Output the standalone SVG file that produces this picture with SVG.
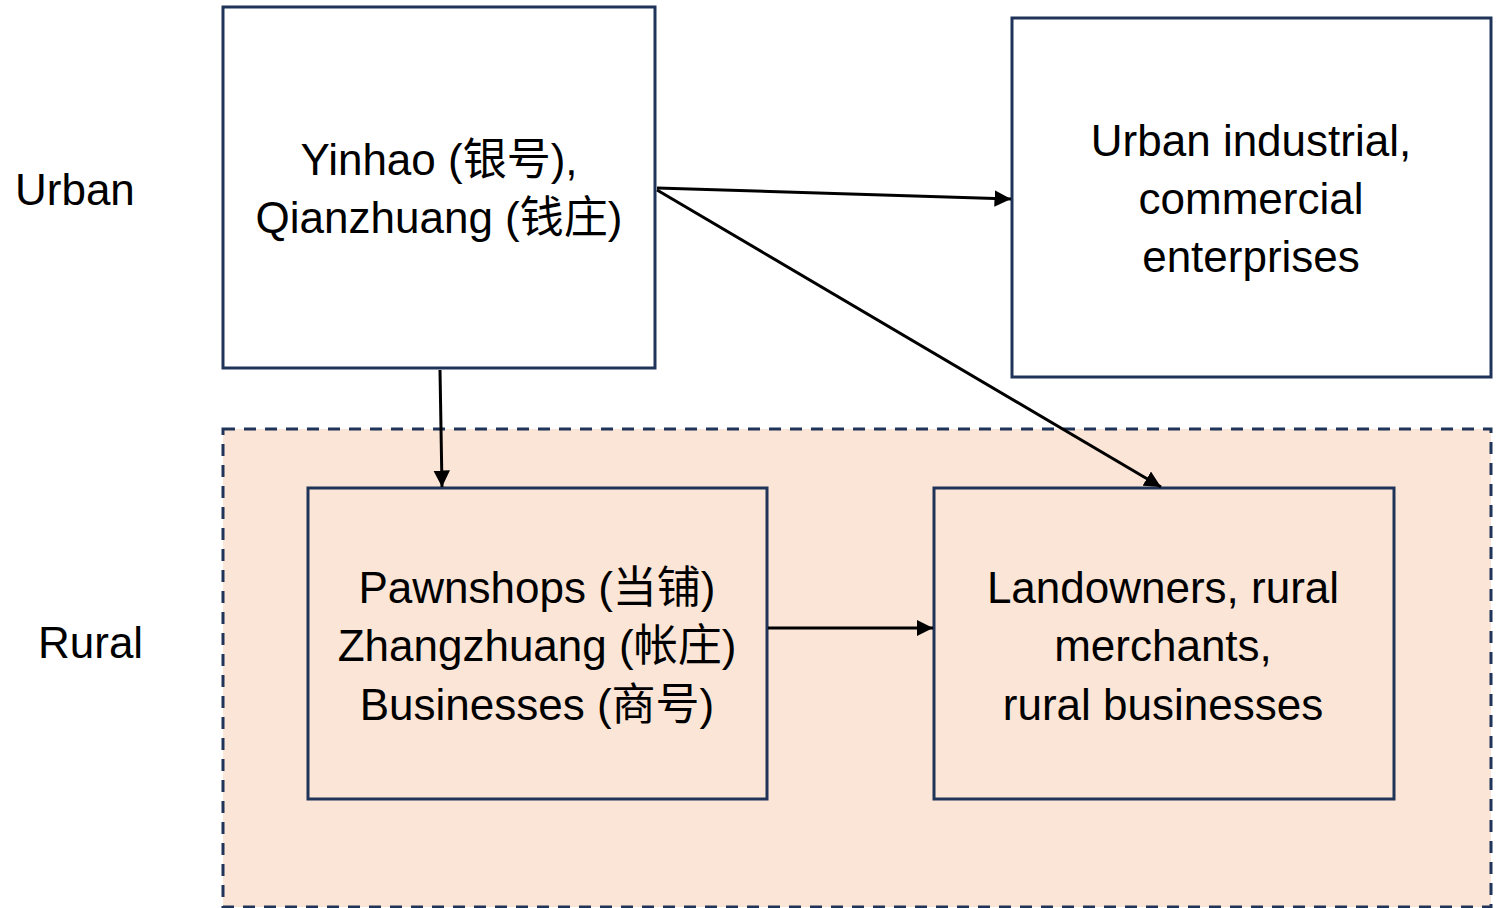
<svg xmlns="http://www.w3.org/2000/svg" width="1503" height="908" viewBox="0 0 1503 908">
<style>
.box{stroke:#1f3458;stroke-width:3;}
.t{font-family:"Liberation Sans","Noto Sans CJK SC",sans-serif;font-size:44px;fill:#000;text-anchor:middle;}
.lbl{font-family:"Liberation Sans","Noto Sans CJK SC",sans-serif;font-size:44px;fill:#000;}
.c{stroke:#000;stroke-width:3;fill:none;marker-end:url(#ah);}
</style>
<defs>
<marker id="ah" viewBox="0 0 10 10" refX="10" refY="5" markerWidth="5.5" markerHeight="5.5" orient="auto" markerUnits="strokeWidth">
<path d="M0,0 L10,5 L0,10 z" fill="#000"/>
</marker>
</defs>
<rect width="1503" height="908" fill="#fff"/>
<g id="rural-region">
<rect x="223" y="429" width="1268" height="478" fill="#fbe5d6" stroke="#1f3458" stroke-width="3" stroke-dasharray="12,9"/>
</g>
<g id="label-urban"><text class="lbl" x="15" y="205">Urban</text></g>
<g id="label-rural"><text class="lbl" x="38" y="658">Rural</text></g>
<g id="yinhao">
<rect class="box" x="223" y="7" width="432" height="361" fill="#fff"/>
<text class="t" x="439" y="175">Yinhao (银号),</text>
<text class="t" x="439" y="233">Qianzhuang (钱庄)</text>
</g>
<g id="urban-enterprises">
<rect class="box" x="1012" y="18" width="479" height="359" fill="#fff"/>
<text class="t" x="1251" y="156">Urban industrial,</text>
<text class="t" x="1251" y="214">commercial</text>
<text class="t" x="1251" y="272">enterprises</text>
</g>
<g id="pawnshops">
<rect class="box" x="308" y="488" width="459" height="311" fill="#fbe5d6"/>
<text class="t" x="537" y="603">Pawnshops (当铺)</text>
<text class="t" x="537" y="661">Zhangzhuang (帐庄)</text>
<text class="t" x="537" y="720">Businesses (商号)</text>
</g>
<g id="landowners">
<rect class="box" x="934" y="488" width="460" height="311" fill="#fbe5d6"/>
<text class="t" x="1163" y="603">Landowners, rural</text>
<text class="t" x="1163" y="661">merchants,</text>
<text class="t" x="1163" y="720">rural businesses</text>
</g>
<g id="connectors">
<line class="c" x1="440" y1="370" x2="442" y2="487"/>
<line class="c" x1="657" y1="188" x2="1011" y2="199"/>
<line class="c" x1="657" y1="190" x2="1161" y2="487"/>
<line class="c" x1="768" y1="628" x2="933" y2="628"/>
</g>
</svg>
